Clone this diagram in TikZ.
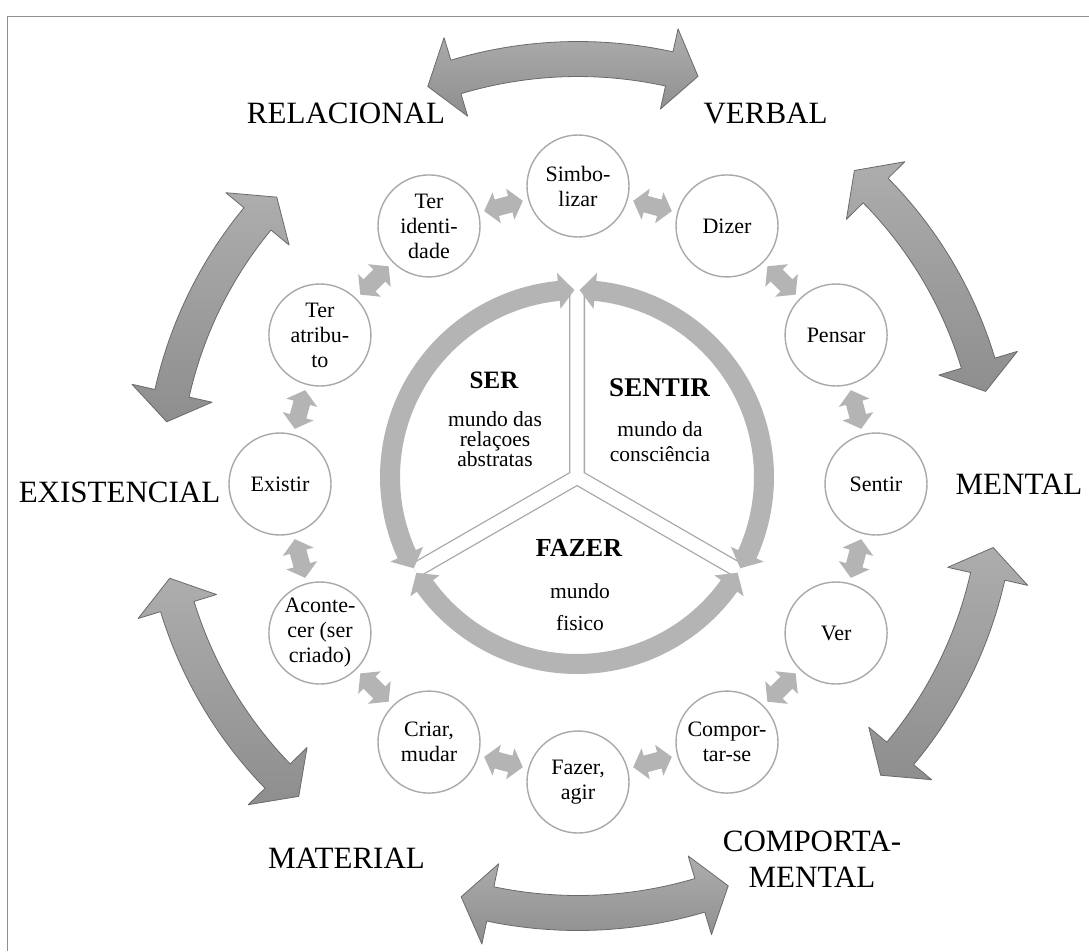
\documentclass[tikz,border=0pt]{standalone}
\usepackage{fontspec}
\setmainfont{Liberation Serif}
\usetikzlibrary{calc}
\definecolor{framegray}{HTML}{8F8F8F}
\definecolor{circgray}{HTML}{A9A9A9}
\definecolor{ringgray}{HTML}{B4B4B4}
\definecolor{bandgray}{HTML}{A8A8A8}
\definecolor{arrlight}{HTML}{ADADAD}
\definecolor{arrdark}{HTML}{8E8E8E}
\definecolor{arredge}{HTML}{6A6A6A}
\newcommand\bigarrow[3]{%
  \pgfmathsetmacro\BAa{#2+4.0}%
  \pgfmathsetmacro\BAb{#3-4.0}%
  \pgfmathsetmacro\BAro{#1+17.5}%
  \pgfmathsetmacro\BAri{#1-17.5}%
  \pgfmathsetmacro\BAho{#1+41}%
  \pgfmathsetmacro\BAhi{#1-41}%
  \shadedraw[bigarr] (#2:#1) -- (\BAa:\BAho) -- (\BAa:\BAro)
    arc[start angle=\BAa, end angle=\BAb, radius=\BAro]
    -- (\BAb:\BAho) -- (#3:#1) -- (\BAb:\BAhi) -- (\BAb:\BAri)
    arc[start angle=\BAb, end angle=\BAa, radius=\BAri]
    -- (\BAa:\BAhi) -- cycle;}
\begin{document}
\begin{tikzpicture}[x=1pt,y=1pt,
  smallc/.style={circle, draw=circgray, line width=1.4pt, fill=white, minimum size=102pt, inner sep=0pt, align=center, font=\fontsize{22}{25}\selectfont},
  biglabel/.style={anchor=base, inner sep=0pt, font=\fontsize{31}{36}\selectfont},
  innertxt/.style={anchor=base, inner sep=0pt, font=\fontsize{21.5}{25}\selectfont},
  innerhead/.style={anchor=base, inner sep=0pt, font=\bfseries\fontsize{#1}{#1}\selectfont},
  bigarr/.style={top color=arrlight, bottom color=arrdark, draw=arredge, line width=0.8pt, line join=round},
  smallarr/.pic={\fill[ringgray] (-20,0) -- (-7,16) -- (-7,8.5) -- (7,8.5) -- (7,16) -- (20,0) -- (7,-16) -- (7,-8.5) -- (-7,-8.5) -- (-7,-16) -- cycle;}
]
\fill[white] (0,0) rectangle (1089,-951);
\useasboundingbox (0,0) rectangle (1089,-951);
\draw[framegray, line width=1.2pt] (1089,-16.5) -- (7.5,-16.5) -- (7.5,-951);

% big outer arrows
\begin{scope}[shift={(578,-484)}]
  \bigarrow{425}{73.6}{110.7}
  \bigarrow{418}{12.8}{48.6}
  \bigarrow{420}{-43.9}{-8.7}
  \bigarrow{429}{-105.8}{-69.5}
  \bigarrow{419}{-167}{-131.8}
  \bigarrow{416}{136.4}{171.4}
  % small circles
  \node[smallc] (c1) at (90:298) {Simbo-\\lizar};
  \node[smallc] (c2) at (60:298) {Dizer};
  \node[smallc] (c3) at (30:298) {Pensar};
  \node[smallc] (c4) at (0:298) {Sentir};
  \node[smallc] (c5) at (-30:298) {Ver};
  \node[smallc] (c6) at (-60:298) {Compor-\\tar-se};
  \node[smallc] (c7) at (-90:298) {Fazer,\\agir};
  \node[smallc] (c8) at (-120:298) {Criar,\\mudar};
  \node[smallc] (c9) at (-150:298) {Aconte-\\cer (ser\\criado)};
  \node[smallc] (c10) at (180:298) {Existir};
  \node[smallc] (c11) at (150:298) {Ter\\atribu-\\to};
  \node[smallc] (c12) at (120:298) {Ter\\identi-\\dade};
\end{scope}

% small double arrows between circles
\foreach \i/\j/\a in {1/2/75, 2/3/45, 3/4/15, 4/5/-15, 5/6/-45, 6/7/-75, 7/8/-105, 8/9/-135, 9/10/-165, 10/11/165, 11/12/135, 12/1/105}{
  \pic[rotate=\a+90] at ($(c\i)!0.5!(c\j)$) {smallarr};
}

% inner ring
\begin{scope}[shift={(577,-477)}]
  \draw[bandgray, line width=16pt] (0,0) -- (90:187) (0,0) -- (210:187) (0,0) -- (330:187);
  \draw[white, line width=13.4pt] (0,0) -- (90:187) (0,0) -- (210:187) (0,0) -- (330:187);
  \foreach \j in {90,210,330}{
    \pgfmathsetmacro\Rs{\j+0.8}
    \pgfmathsetmacro\Re{\j+120-0.8}
    \pgfmathsetmacro\Rsa{\Rs+4.8}
    \pgfmathsetmacro\Rea{\Re-4.8}
    \fill[ringgray] (\Rs:187) -- (\Rsa:205) -- (\Rsa:197)
      arc[start angle=\Rsa, end angle=\Rea, radius=197]
      -- (\Rea:205) -- (\Re:187) -- (\Rea:169) -- (\Rea:177)
      arc[start angle=\Rea, end angle=\Rsa, radius=177]
      -- (\Rsa:169) -- cycle;
  }
\end{scope}

% inner texts
\node[innerhead=25] (tser) at (494,-388) {SER};
\node[innertxt] (tser1) at (495,-426.7) {mundo das};
\node[innertxt] (tser2) at (495,-446.7) {relaçoes};
\node[innertxt] (tser3) at (495,-466.7) {abstratas};
\node[innerhead=27] (tsentir) at (659.5,-396.7) {SENTIR};
\node[innertxt] (tsentir1) at (660,-436.7) {mundo da};
\node[innertxt] (tsentir2) at (660,-461.7) {consciência};
\node[innerhead=26] (tfazer) at (579,-556.7) {FAZER};
\node[innertxt] (tfazer1) at (580,-598) {mundo};
\node[innertxt] (tfazer2) at (580,-630) {fisico};

% outer labels
\node[biglabel] (lrel) at (346,-123) {RELACIONAL};
\node[biglabel] (lverb) at (765.5,-123) {VERBAL};
\node[biglabel] (lexist) at (119.5,-502) {EXISTENCIAL};
\node[biglabel] (lment) at (1019,-494) {MENTAL};
\node[biglabel] (lmat) at (346.5,-868) {MATERIAL};
\node[biglabel] (lcomp1) at (812,-851) {COMPORTA-};
\node[biglabel] (lcomp2) at (812,-887) {MENTAL};
\end{tikzpicture}
\end{document}
